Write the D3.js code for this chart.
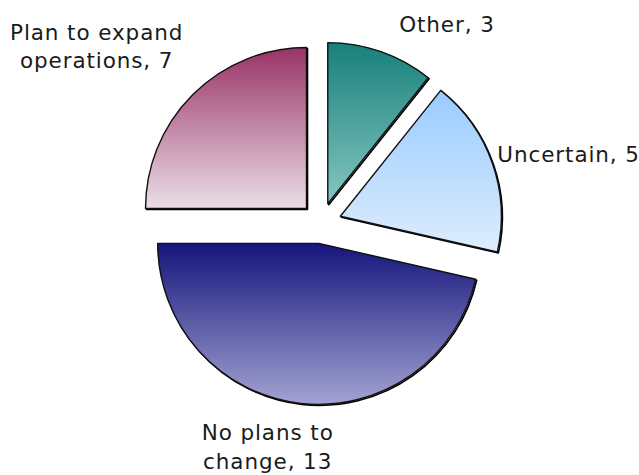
<!DOCTYPE html>
<html>
<head>
<meta charset="utf-8">
<script src="https://cdn.jsdelivr.net/npm/d3@7"></script>
<style>
  html, body { margin: 0; padding: 0; background: #fff; }
  svg { display: block; }
  .lbl { font-family: "DejaVu Sans", sans-serif; font-size: 21.5px; letter-spacing: 0.9px; fill: #1a1a1a; }
</style>
</head>
<body>
<svg id="chart" width="639" height="475"></svg>
<script>
// Survey responses, in drawing order (clockwise from 12 o'clock)
const categories = ["Other", "Uncertain", "No plans to change", "Plan to expand operations"];
const values = [3, 5, 13, 7];
const labelLines = [
  ["Other, 3"],
  ["Uncertain, 5"],
  ["No plans to", "change, 13"],
  ["Plan to expand", "operations, 7"]
];

// Gradient stops (top, bottom) per slice
const gradTop = ["#17807a", "#99cbff", "#15157c", "#993366"];
const gradBottom = ["#85c6c1", "#deedfd", "#a3a3d3", "#ecdee7"];

// Layout
const width = 639, height = 475;
const cx = 321, cy = 223;
const radius = 161;
const explode = 20.5;
const labelAnchor = ["middle", "start", "middle", "middle"];
const labelNudge = [[66, -20], [5, -1], [-33, 37], [-96, -55]];
const lineGap = 28.5;

const svg = d3.select("#chart");
const defs = svg.append("defs");

categories.forEach((c, i) => {
  const g = defs.append("linearGradient")
    .attr("id", "grad" + i)
    .attr("x1", 0).attr("y1", 0).attr("x2", 0).attr("y2", 1);
  g.append("stop").attr("offset", "0%").attr("stop-color", gradTop[i]);
  g.append("stop").attr("offset", "100%").attr("stop-color", gradBottom[i]);
});

const pie = d3.pie().sort(null).value(d => d)
  .startAngle(0).endAngle(2 * Math.PI);
const arcs = pie(values);
const arc = d3.arc().innerRadius(0).outerRadius(radius);

const root = svg.append("g").attr("transform", `translate(${cx},${cy})`);

const slices = root.selectAll("g.slice")
  .data(arcs)
  .join("g")
  .attr("class", "slice")
  .attr("transform", d => {
    const mid = (d.startAngle + d.endAngle) / 2;
    return `translate(${explode * Math.sin(mid)},${-explode * Math.cos(mid)})`;
  });

// soft dark shadow edge
slices.append("path")
  .attr("d", arc)
  .attr("transform", "translate(1,1)")
  .attr("fill", "none")
  .attr("stroke", "#000")
  .attr("stroke-width", 1.6)
  .attr("stroke-linejoin", "round");

slices.append("path")
  .attr("d", arc)
  .attr("fill", (d, i) => `url(#grad${i})`)
  .attr("stroke", "#111")
  .attr("stroke-width", 1.4)
  .attr("stroke-linejoin", "round");

// Category labels
slices.each(function (d, i) {
  const mid = (d.startAngle + d.endAngle) / 2;
  const bx = radius * Math.sin(mid) + labelNudge[i][0];
  const by = -radius * Math.cos(mid) + labelNudge[i][1];
  const t = d3.select(this).append("text")
    .attr("class", "lbl")
    .attr("text-anchor", labelAnchor[i]);
  labelLines[i].forEach((line, k) => {
    t.append("tspan").attr("x", bx).attr("y", by + k * lineGap).text(line);
  });
});
</script>
</body>
</html>
